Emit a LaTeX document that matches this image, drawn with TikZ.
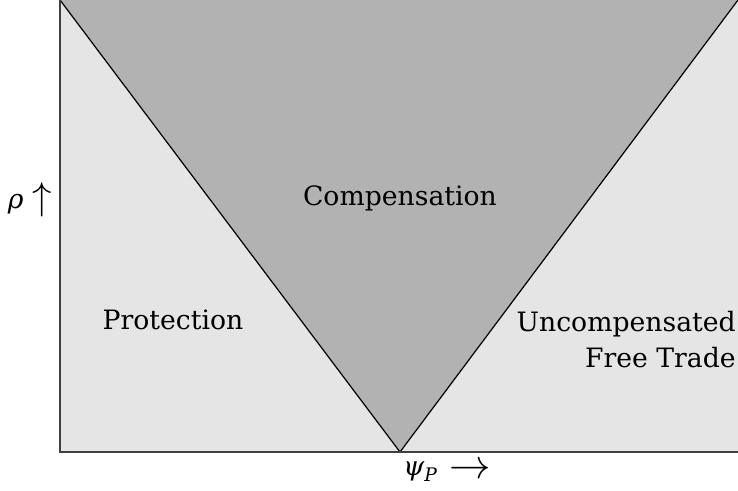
\documentclass[tikz,border=0pt]{standalone}
\usepackage{graphicx}
\usepackage{fontspec}
\setmainfont{DejaVu Serif}
\begin{document}
\begin{tikzpicture}[x=0.75pt,y=-0.75pt,
  lbl/.style={font=\fontsize{20}{27}\selectfont, inner sep=0pt},
  axis/.style={draw=black!75, line width=1pt},
  vline/.style={draw=black, line width=0.9pt}]
\useasboundingbox (0,0) rectangle (738,490);
\coordinate (tl) at (60,0);
\coordinate (tr) at (738,0);
\coordinate (bl) at (60,452);
\coordinate (br) at (738,452);
\coordinate (apex) at (400,452);
\fill[black!10] (tl) rectangle (br);
\fill[black!30] (tl) -- (apex) -- (tr) -- cycle;
\draw[vline] (tl) -- (apex) -- (tr);
\draw[axis] (tl) -- (bl) -- (br);
\node[lbl] (comp) at (400,198) {Compensation};
\node[lbl] (prot) at (173,320) {Protection};
\node[lbl, anchor=east, align=right] (unc) at (736,340) {Uncompensated\\Free Trade};
\node[lbl] (rho) at (30,200) {\textit{ρ}\hspace{0.35em}\raisebox{-0.05em}{\scalebox{1.4}{$\uparrow$}}};
\node[lbl] (psi) at (447,472) {\textit{ψ}\raisebox{-0.22em}{\fontsize{14}{14}\selectfont\textit{P}}\hspace{0.45em}\raisebox{-0.1em}{\scalebox{1.5}{$\rightarrow$}}};
\end{tikzpicture}
\end{document}
